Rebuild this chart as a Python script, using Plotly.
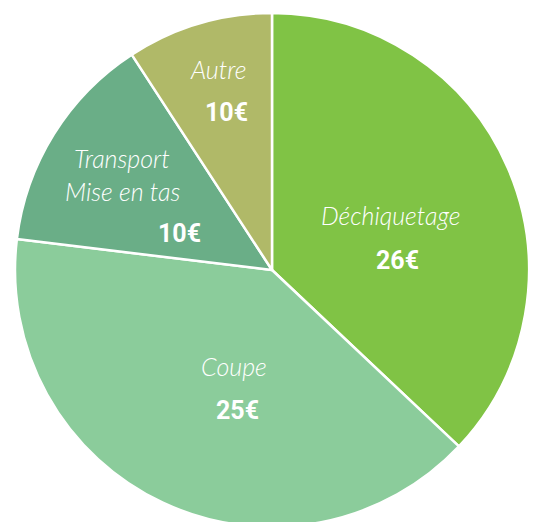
import plotly.graph_objects as go

# Data
categories = ["Déchiquetage", "Coupe", "Transport<br>Mise en tas", "Autre"]
display_names = [["Déchiquetage"], ["Coupe"], ["Transport", "Mise en tas"], ["Autre"]]
amount_labels = ["26€", "25€", "10€", "10€"]
# slice shares as drawn (angles measured in the reference: 133°, 144°, 50°, 33°)
slice_values = [26, 28, 9.75, 6.45]
colors = ["#80c345", "#8bcc9b", "#6aae87", "#b0b968"]

W, H = 539, 522
OFF = 8  # page body margin offset
cx, cy, r = 272 - OFF, 270 - OFF, 257  # pixel geometry of the pie

fig = go.Figure(go.Pie(
    labels=categories,
    values=slice_values,
    sort=False,
    direction="clockwise",
    rotation=0,
    marker=dict(colors=colors, line=dict(color="white", width=2.5)),
    textinfo="none",
    hoverinfo="label",
    showlegend=False,
    domain=dict(x=[(cx - r) / W, (cx + r) / W],
                y=[max(0, 1 - (cy + r) / H), min(1, 1 - (cy - r) / H)]),
))

# label positions (pixel centres in the reference) for name lines and amounts
name_pos = [[(391, 215)], [(234, 366)], [(122, 158), (122, 191)], [(218, 69)]]
amount_pos = [(397, 260), (237.5, 410), (179, 233), (226, 112)]

name_font = dict(family="Lato, Open Sans, sans-serif", size=25, color="white", style="italic", weight=300)
amount_font = dict(family="Roboto, sans-serif", size=25, color="white", weight="bold")

for names, poss, amt, apos in zip(display_names, name_pos, amount_labels, amount_pos):
    for n, (px, py) in zip(names, poss):
        fig.add_annotation(x=(px - OFF) / W, y=1 - (py - OFF) / H, xref="paper", yref="paper",
                           text=n, showarrow=False, font=name_font,
                           xanchor="center", yanchor="middle")
    fig.add_annotation(x=(apos[0] - OFF) / W, y=1 - (apos[1] - OFF) / H, xref="paper", yref="paper",
                       text=amt, showarrow=False, font=amount_font,
                       xanchor="center", yanchor="middle")

fig.update_layout(width=W, height=H, margin=dict(l=0, r=0, t=0, b=0),
                  paper_bgcolor="white", plot_bgcolor="white")

fig.write_html("out.html")
